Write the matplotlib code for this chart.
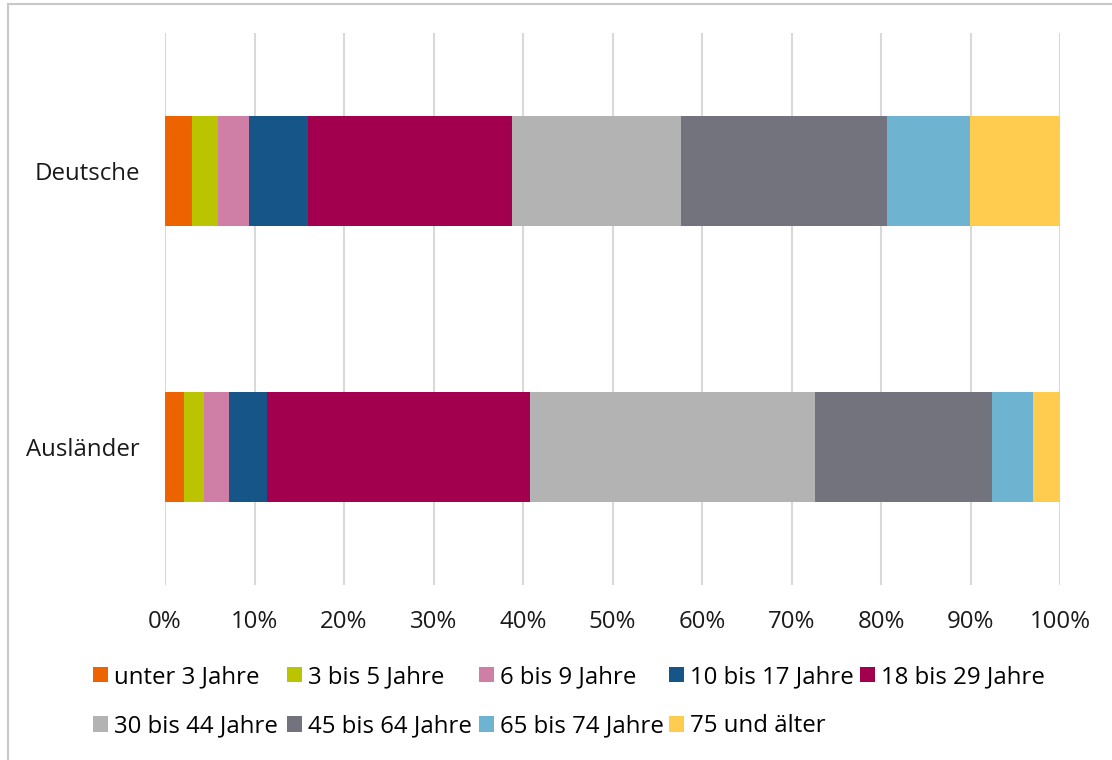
import matplotlib.pyplot as plt
from matplotlib.lines import Line2D

plt.rcParams['font.family'] = ['Open Sans', 'DejaVu Sans']

groups = ['Deutsche', 'Ausländer']
age_classes = ['unter 3 Jahre', '3 bis 5 Jahre', '6 bis 9 Jahre', '10 bis 17 Jahre',
               '18 bis 29 Jahre', '30 bis 44 Jahre', '45 bis 64 Jahre',
               '65 bis 74 Jahre', '75 und älter']
# share in percent, per age class
deutsche = [3.0, 2.9, 3.5, 6.6, 22.8, 18.8, 23.1, 9.2, 10.1]
auslaender = [2.1, 2.3, 2.7, 4.3, 29.4, 31.8, 19.8, 4.6, 3.0]
colors = ['#ED6300', '#BBC400', '#CF7FA5', '#155587', '#A2004F',
          '#B3B3B3', '#73737D', '#6EB3CF', '#FFCC50']
xticks = [0, 10, 20, 30, 40, 50, 60, 70, 80, 90, 100]

fs = 17.3
fig = plt.figure(figsize=(11.12, 7.6), dpi=100)
ax = fig.add_axes([165 / 1112, 1 - 585 / 760, 895 / 1112, 552 / 760])

ypos = [1, 0]
left = [0.0, 0.0]
for i, name in enumerate(age_classes):
    vals = [deutsche[i], auslaender[i]]
    ax.barh(ypos, vals, left=left, height=0.4, color=colors[i], label=name, zorder=3)
    left = [l + v for l, v in zip(left, vals)]

ax.set_xlim(0, 100)
ax.set_ylim(-0.5, 1.5)
ax.set_xticks(xticks)
ax.set_xticklabels([f'{t}%' for t in xticks], fontsize=fs, color='#1a1a1a')
ax.set_yticks(ypos)
ax.set_yticklabels(groups, fontsize=fs, color='#1a1a1a')
ax.tick_params(axis='both', length=0)
ax.tick_params(axis='x', pad=18)
ax.tick_params(axis='y', pad=18)
for s in ax.spines.values():
    s.set_visible(False)
ax.grid(axis='x', color='#d9d9d9', linewidth=1.5, zorder=0)
ax.set_axisbelow(True)

# legend: 5 equal-width columns, filled row by row
handles, labels = ax.get_legend_handles_labels()
col_x = [93, 287, 479, 669, 860]
for c, x in enumerate(col_x):
    idx = [k for k in (c, c + 5) if k < len(handles)]
    fig.legend([handles[k] for k in idx], [labels[k] for k in idx],
               loc='upper left', bbox_to_anchor=(x / 1112, 1 - 665 / 760),
               ncol=1, frameon=False, fontsize=fs, borderpad=0, borderaxespad=0,
               handlelength=0.62, handleheight=0.62, handletextpad=0.24,
               labelspacing=1.05)

# thin frame around the picture
fig.add_artist(Line2D([7.5 / 1112, 1], [1 - 3.5 / 760, 1 - 3.5 / 760],
                      color='#c8c8c8', linewidth=1.5))
fig.add_artist(Line2D([7.5 / 1112, 7.5 / 1112], [0, 1 - 3.5 / 760],
                      color='#c8c8c8', linewidth=1.5))

fig.savefig('out.png', dpi=100)
